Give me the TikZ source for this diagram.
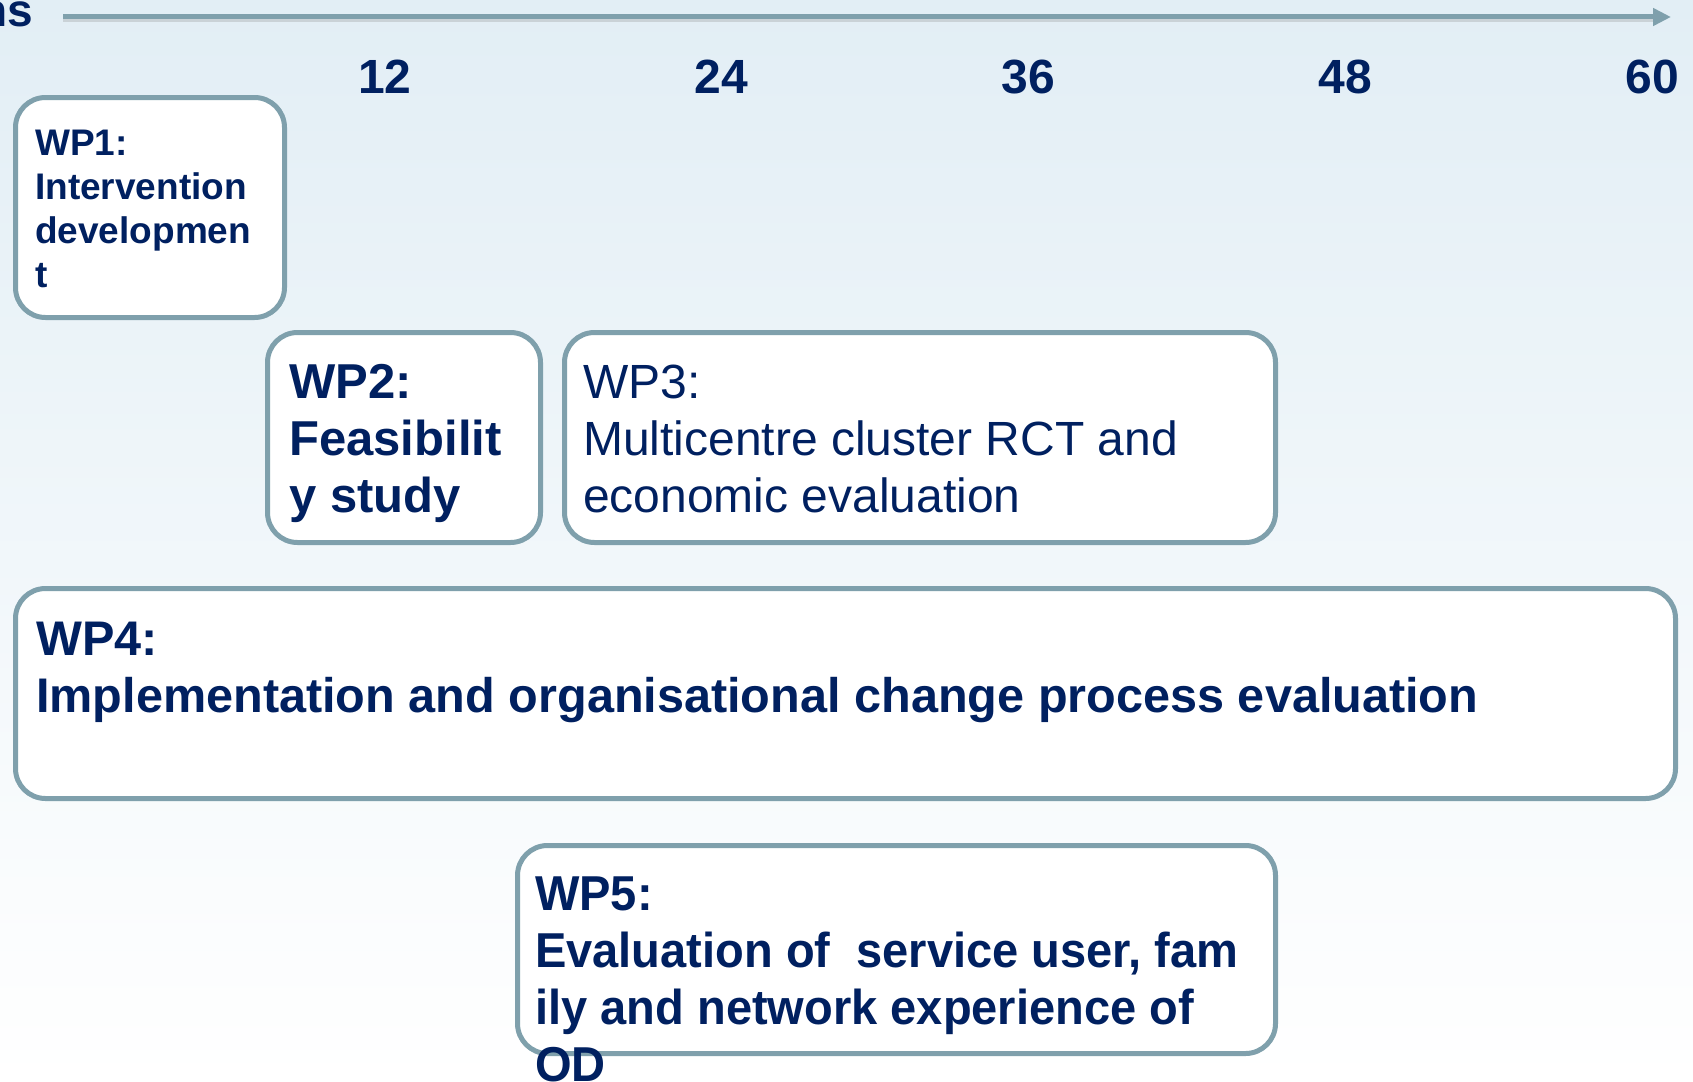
\documentclass[tikz,border=0pt]{standalone}
\usepackage{fontspec}
\setmainfont{Liberation Sans}
\newfontfamily\narrowfont[FakeStretch=0.96]{Liberation Sans}
\usetikzlibrary{arrows.meta}
\definecolor{navy}{RGB}{0,32,96}
\definecolor{edgec}{RGB}{127,160,172}
\definecolor{bgtop}{RGB}{226,238,245}
\tikzset{
  wpbox/.style={draw=edgec, line width=5pt, fill=white, rounded corners=30pt,
    inner sep=0pt, anchor=north west},
  wptext/.style={text=navy, inner sep=0pt, anchor=base west, align=left},
  month/.style={text=navy, inner sep=0pt, anchor=base, font=\fontsize{48}{56}\selectfont\bfseries},
}
\begin{document}
\begin{tikzpicture}[x=1pt,y=-1pt]
\useasboundingbox (0,0) rectangle (1693,1081);
\shade[top color=bgtop, bottom color=white] (0,0) rectangle (1693,1081);
\begin{scope}
\clip (0,0) rectangle (1693,1081);
\node[text=navy, inner sep=0pt, anchor=base east, font=\fontsize{46}{54}\selectfont\bfseries] (mlabel) at (33,27) {Months};
% timeline arrow
\coordinate (tstart) at (63,17);
\coordinate (tend) at (1671,17);
\draw[line width=5pt, draw=gray, opacity=0.25] ([yshift=-3pt]tstart) -- ([yshift=-3pt,xshift=-14pt]tend);
\draw[line width=5pt, draw=edgec, -{Triangle[length=18pt,width=17pt]}] (tstart) -- (tend);
% month labels
\node[month] (m12) at (385,93) {12};
\node[month] (m24) at (721,93) {24};
\node[month] (m36) at (1028,93) {36};
\node[month] (m48) at (1345,93) {48};
\node[month] (m60) at (1652,93) {60};
% boxes
\node[wpbox, minimum width=269pt, minimum height=220pt] (wp1) at (13,95) {};
\node[wpbox, minimum width=273pt, minimum height=210pt] (wp2) at (265,330) {};
\node[wpbox, minimum width=711pt, minimum height=210pt] (wp3) at (562,330) {};
\node[wpbox, minimum width=1660pt, minimum height=210pt] (wp4) at (13,586) {};
\node[wpbox, minimum width=758pt, minimum height=208pt] (wp5) at (515,843) {};
% texts (base anchor = baseline of last line)
\node[wptext, font=\fontsize{37}{44}\selectfont\bfseries] (t1) at (35,287)
  {WP1:\\Intervention\\developmen\\t};
\node[wptext, font=\fontsize{49}{57}\selectfont\bfseries] (t2) at (289,512)
  {WP2:\\Feasibilit\\y study};
\node[wptext, font=\fontsize{48}{57}\selectfont] (t3) at (583,512)
  {WP3:\\Multicentre cluster RCT and\\economic evaluation};
\node[wptext, font=\fontsize{48.6}{57}\selectfont\bfseries] (t4) at (36,712)
  {WP4:\\Implementation and organisational change process evaluation};
\node[wptext, font=\fontsize{49}{57}\selectfont\narrowfont\bfseries] (t5) at (535,1081)
  {WP5:\\Evaluation of\ \ service user, fam\\ily and network experience of\\OD};
\end{scope}
\end{tikzpicture}
\end{document}
